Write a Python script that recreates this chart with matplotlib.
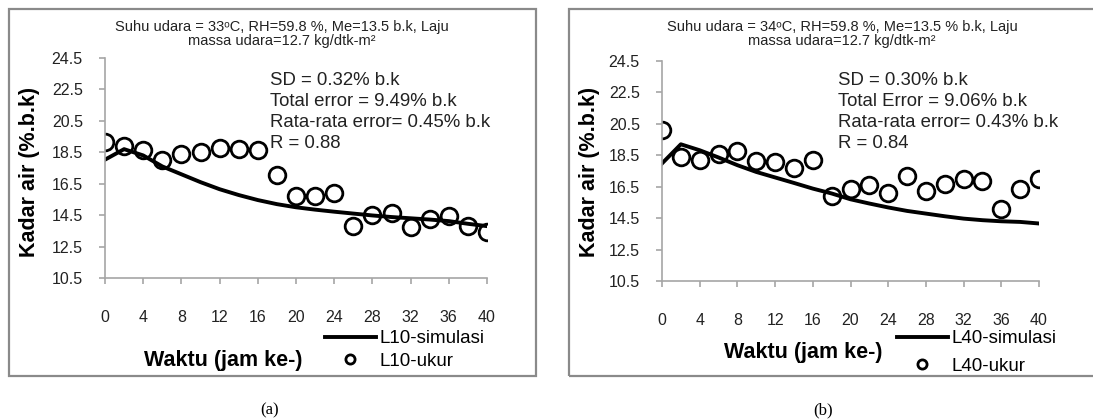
import matplotlib
matplotlib.use("Agg")
import matplotlib.pyplot as plt
from matplotlib.patches import Rectangle
from matplotlib import font_manager

# data (moisture content, % b.k)
hours = list(range(0, 41, 2))
l10_sim = [18.03, 18.70, 18.30, 17.60, 17.10, 16.60, 16.15, 15.78, 15.46, 15.20, 15.00,
           14.85, 14.72, 14.60, 14.48, 14.38, 14.30, 14.22, 14.12, 13.95, 13.80]
l10_ukur = [19.14, 18.88, 18.67, 17.99, 18.40, 18.50, 18.75, 18.70, 18.63, 17.08, 15.74,
            15.70, 15.91, 13.83, 14.49, 14.64, 13.75, 14.28, 14.42, 13.83, 13.43]
l40_sim = [17.98, 19.20, 18.82, 18.36, 17.87, 17.44, 17.09, 16.74, 16.38, 16.07, 15.70,
           15.43, 15.18, 14.96, 14.79, 14.62, 14.47, 14.37, 14.30, 14.26, 14.16]
l40_ukur = [20.10, 18.40, 18.23, 18.61, 18.78, 18.14, 18.08, 17.66, 18.19, 15.89, 16.38,
            16.60, 16.10, 17.17, 16.21, 16.66, 16.96, 16.87, 15.11, 16.38, 16.96]

yticks = [10.5, 12.5, 14.5, 16.5, 18.5, 20.5, 22.5, 24.5]
xticks = list(range(0, 41, 4))

titles = ["Suhu udara = 33\u1d52C, RH=59.8 %, Me=13.5 b.k, Laju\nmassa udara=12.7 kg/dtk-m\u00b2",
          "Suhu udara = 34\u1d52C, RH=59.8 %, Me=13.5 % b.k, Laju\nmassa udara=12.7 kg/dtk-m\u00b2"]
stats = ["SD = 0.32% b.k\nTotal error = 9.49% b.k\nRata-rata error= 0.45% b.k\nR = 0.88",
         "SD = 0.30% b.k\nTotal Error = 9.06% b.k\nRata-rata error= 0.43% b.k\nR = 0.84"]
sim_labels = ["L10-simulasi", "L40-simulasi"]
ukur_labels = ["L10-ukur", "L40-ukur"]
captions = ["(a)", "(b)"]

W, H = 1093, 419
names = {f.name for f in font_manager.fontManager.ttflist}
narrow = "Liberation Sans Narrow" if "Liberation Sans Narrow" in names else "Liberation Sans"
fam = [narrow, "DejaVu Sans"]
plt.rcParams["font.family"] = fam


def fx(x):
    return x / W


def fy(y):
    return 1 - y / H


fig = plt.figure(figsize=(W / 100, H / 100), dpi=100)
grey = "#a6a6a6"

# pixel layout of each panel
layout = [
    dict(box=(9, 9, 536, 376), ax=(105, 58, 487, 278), title=(282, 34), stats=(270, 72),
         ylab=(30, 172), xlab=(223, 360), leg=(325, 330), legsp=0.3, cap=(270, 410)),
    dict(box=(569, 9, 1100, 376), ax=(662, 61, 1039, 281), title=(842, 34), stats=(838, 72),
         ylab=(590, 172), xlab=(803, 352), leg=(897, 330), legsp=0.55, cap=(823, 410)),
]

for i, (sim, ukur) in enumerate([(l10_sim, l10_ukur), (l40_sim, l40_ukur)]):
    L = layout[i]
    x0, y0, x1, y1 = L["box"]
    fig.add_artist(Rectangle((fx(x0), fy(y1)), fx(x1 - x0), (y1 - y0) / H,
                             transform=fig.transFigure, fill=False, edgecolor="#8a8a8a", lw=1.6))
    a0, b0, a1, b1 = L["ax"]
    ax = fig.add_axes([fx(a0), fy(b1), fx(a1 - a0), (b1 - b0) / H])
    ln, = ax.plot(hours, sim, color="black", lw=2.8, label=sim_labels[i])
    pt, = ax.plot(hours, ukur, linestyle="none", marker="o", ms=12, mfc="none",
                  mec="black", mew=2.0, label=ukur_labels[i])
    ax.set_xlim(0, 40)
    ax.set_ylim(10.5, 24.5)
    ax.set_xticks(xticks)
    ax.set_yticks(yticks)
    ax.set_yticklabels([f"{v:.1f}" for v in yticks])
    for s in ["top", "right"]:
        ax.spines[s].set_visible(False)
    for s in ["left", "bottom"]:
        ax.spines[s].set_color(grey)
        ax.spines[s].set_linewidth(1.2)
    ax.tick_params(axis="both", colors=grey, labelcolor="#222222", labelsize=11.5,
                   length=4, width=1.2)
    ax.tick_params(axis="x", pad=19)
    ax.tick_params(axis="y", pad=12)
    ax.patch.set_alpha(0)

    tx, ty = L["title"]
    fig.text(fx(tx), fy(ty), titles[i], ha="center", va="center", fontsize=10.5,
             linespacing=1.05, color="#222222")
    sx, sy = L["stats"]
    fig.text(fx(sx), fy(sy), stats[i], ha="left", va="top", fontsize=13.4,
             linespacing=1.32, color="#222222")
    lx, lyy = L["ylab"]
    fig.text(fx(lx), fy(lyy), "Kadar air (%.b.k)", rotation=90, ha="center", va="center",
             fontsize=15.5, fontweight="bold", family=["Liberation Sans", "DejaVu Sans"])
    xx, xy = L["xlab"]
    fig.text(fx(xx), fy(xy), "Waktu (jam ke-)", ha="center", va="center",
             fontsize=15.5, fontweight="bold", family=["Liberation Sans", "DejaVu Sans"])
    gx, gy = L["leg"]
    ax.legend(handles=[ln, pt], loc="upper left", bbox_to_anchor=(fx(gx), fy(gy)),
              bbox_transform=fig.transFigure, frameon=False, borderpad=0, borderaxespad=0,
              handlelength=2.7, handletextpad=0.2, labelspacing=L["legsp"], fontsize=13.5,
              markerscale=0.55)
    cx, cy = L["cap"]
    fig.text(fx(cx), fy(cy), captions[i], ha="center", va="center", fontsize=12,
             family=["Liberation Serif", "DejaVu Serif"])

fig.savefig("out.png", dpi=100)
